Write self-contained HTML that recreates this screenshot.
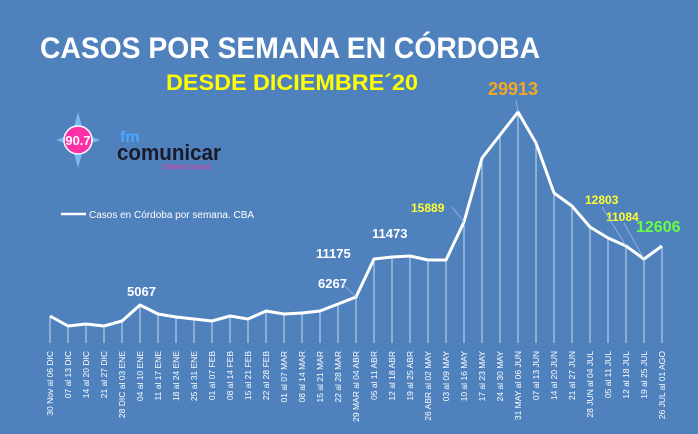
<!DOCTYPE html>
<html><head><meta charset="utf-8"><style>
html,body{margin:0;padding:0;background:#4f81bd;}
svg{display:block;font-family:"Liberation Sans",sans-serif;}
</style></head><body>
<svg width="698" height="434" viewBox="0 0 698 434" xmlns="http://www.w3.org/2000/svg">
<rect width="698" height="434" fill="#4f81bd"/>
<text x="40" y="58" font-size="30" font-weight="bold" fill="#fff" textLength="500" lengthAdjust="spacingAndGlyphs">CASOS POR SEMANA EN CÓRDOBA</text>
<text x="166" y="90" font-size="22" font-weight="bold" fill="#ffff00" textLength="252" lengthAdjust="spacingAndGlyphs">DESDE DICIEMBRE´20</text>
<!-- logo -->
<polygon points="78,112 84,134 100,140 84,146 78,168 72,146 56,140 72,134" fill="#7ab8f0"/>
<circle cx="78" cy="140" r="14" fill="#ff2fa8" stroke="#fff" stroke-width="1.5"/>
<text x="78" y="145" font-size="13" font-weight="bold" fill="#fff" text-anchor="middle">90.7</text>
<text x="120" y="142" font-size="16" fill="#4aa8ff" font-weight="bold">fm</text>
<text x="117" y="160" font-size="22" font-weight="bold" fill="#1a1a2a" textLength="104" lengthAdjust="spacingAndGlyphs">comunicar</text>
<text x="162" y="169" font-size="7" fill="#ff2fa8">Colonia Caroya</text>
<line x1="61" y1="214" x2="86" y2="214" stroke="#fff" stroke-width="2.5"/>
<text x="89" y="218" font-size="10" fill="#fff">Casos en Córdoba por semana. CBA</text>
<g id="chart"></g>
<text x="127" y="296" font-size="13" font-weight="bold" fill="#fff">5067</text>
<text x="318" y="288" font-size="13" font-weight="bold" fill="#fff">6267</text>
<line x1="343" y1="284" x2="356" y2="297" stroke="#9bb7dd" stroke-width="0.8"/>
<text x="316" y="258" font-size="13" font-weight="bold" fill="#fff">11175</text>
<text x="372" y="238" font-size="13" font-weight="bold" fill="#fff">11473</text>
<text x="411" y="212" font-size="12" font-weight="bold" fill="#ffff33">15889</text>
<line x1="452" y1="207" x2="464" y2="222" stroke="#9bb7dd" stroke-width="0.8"/>
<text x="488" y="95" font-size="18" font-weight="bold" fill="#f5a623">29913</text>
<line x1="516" y1="100" x2="518" y2="112" stroke="#9bb7dd" stroke-width="0.8"/>
<text x="585" y="204" font-size="12" font-weight="bold" fill="#ffff33">12803</text>
<text x="606" y="221" font-size="12" font-weight="bold" fill="#ffff33">11084</text>
<line x1="602" y1="207" x2="626" y2="246" stroke="#9bb7dd" stroke-width="0.8"/>
<line x1="624" y1="223" x2="644" y2="259" stroke="#9bb7dd" stroke-width="0.8"/>
<text x="636" y="232" font-size="16" font-weight="bold" fill="#66ff44">12606</text>
</svg>
<script>
var ys=[316,326,324,326,321,305,314,317,319,321,316,319,311,314,313,311,304,297,259,257,256,260,260,222,158,135,112,143,193,206,227,238,246,259,246];
var labs=["30 Nov al 06 DIC","07 al 13 DIC","14 al 20 DIC","21 al 27 DIC","28 DIC al 03 ENE","04 al 10 ENE","11 al 17 ENE","18 al 24 ENE","25 al 31 ENE","01 al 07 FEB","08 al 14 FEB","15 al 21 FEB","22 al 28 FEB","01 al 07 MAR","08 al 14 MAR","15 al 21 MAR","22 al 28 MAR","29 MAR al 04 ABR","05 al 11 ABR","12 al 18 ABR","19 al 25 ABR","26 ABR al 02 MAY","03 al 09 MAY","10 al 16 MAY","17 al 23 MAY","24 al 30 MAY","31 MAY al 06 JUN","07 al 13 JUN","14 al 20 JUN","21 al 27 JUN","28 JUN al 04 JUL","05 al 11 JUL","12 al 18 JUL","19 al 25 JUL","26 JUL al 01 AGO"];
var ns="http://www.w3.org/2000/svg",g=document.getElementById("chart"),pts=[];
for(var i=0;i<ys.length;i++){var x=50+i*18;pts.push(x+","+ys[i]);
var l=document.createElementNS(ns,"line");l.setAttribute("x1",x);l.setAttribute("x2",x);l.setAttribute("y1",ys[i]);l.setAttribute("y2",343);l.setAttribute("stroke","#e8f0fb");l.setAttribute("stroke-width","0.8");g.appendChild(l);
var t=document.createElementNS(ns,"text");t.setAttribute("transform","translate("+(x+3)+",351) rotate(-90)");t.setAttribute("text-anchor","end");t.setAttribute("font-size","8.5");t.setAttribute("fill","#fff");t.textContent=labs[i];g.appendChild(t);}
var p=document.createElementNS(ns,"polyline");p.setAttribute("points",pts.join(" "));p.setAttribute("fill","none");p.setAttribute("stroke","#fff");p.setAttribute("stroke-width","3");p.setAttribute("stroke-linejoin","round");g.appendChild(p);
</script>
</body></html>
